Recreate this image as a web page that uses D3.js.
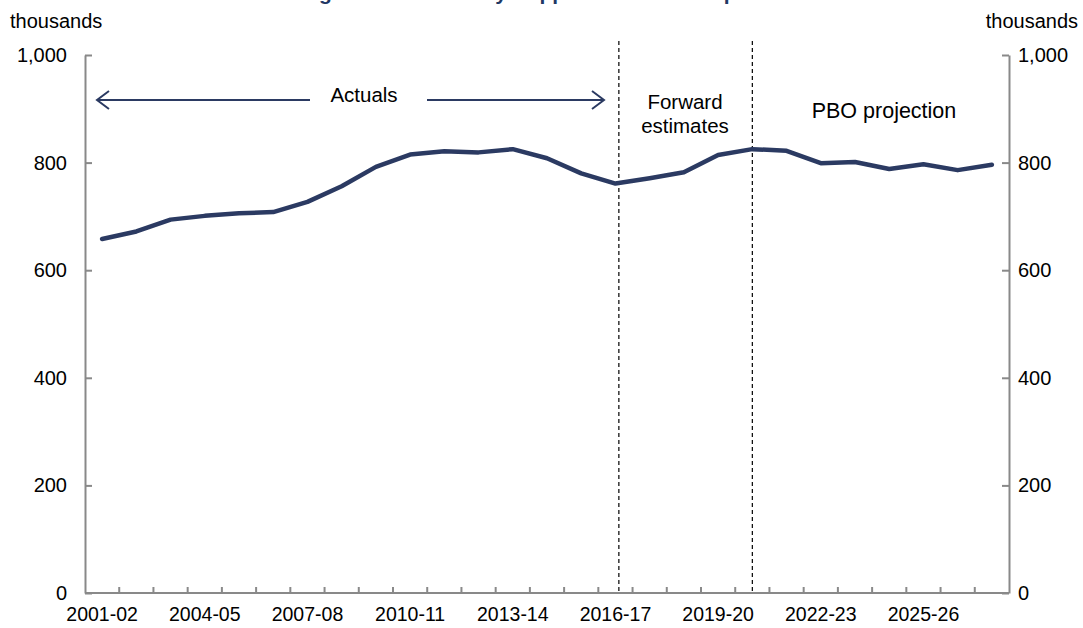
<!DOCTYPE html>
<html>
<head>
<meta charset="utf-8">
<script src="https://cdn.jsdelivr.net/npm/d3@7"></script>
<style>
  html, body { margin: 0; padding: 0; background: #ffffff; }
  svg { display: block; font-family: "Liberation Sans", Arial, sans-serif; }
</style>
</head>
<body>
<svg id="chart" width="1083" height="628"></svg>
<script>
// ---- data ----
const categories = ["2001-02","2002-03","2003-04","2004-05","2005-06","2006-07","2007-08","2008-09","2009-10","2010-11",
  "2011-12","2012-13","2013-14","2014-15","2015-16","2016-17","2017-18","2018-19","2019-20","2020-21",
  "2021-22","2022-23","2023-24","2024-25","2025-26","2026-27","2027-28"];
const recipients = [658, 672, 694, 701, 706, 708, 727, 756, 792, 815,
  821, 819, 825, 808, 780, 761, 771, 782, 814, 825,
  822, 799, 801, 788, 797, 786, 796];
const xTickLabels = ["2001-02","2004-05","2007-08","2010-11","2013-14","2016-17","2019-20","2022-23","2025-26"];
const yTicks = [0, 200, 400, 600, 800, 1000];
const dividers = [{cat: "2016-17", frac: 0.6}, {cat: "2020-21", frac: 0.5}];
const titleText = "Figure 3-1: Disability Support Pension recipients";

(function () {
// ---- layout ----
const svg = d3.select("#chart");
const pLeft = 85, pRight = 1009, pTop = 55, pBottom = 593;
const axisColor = "#898989";
const navy = "#2b3a62";

const x = d3.scaleBand().domain(categories).range([pLeft, pRight]).padding(0);
const bw = x.bandwidth();
const cx = c => x(c) + bw / 2;
const y = d3.scaleLinear().domain([0, 1000]).range([pBottom, pTop]);

// title (cut off at top, as in the reference)
svg.append("text").attr("x", 543).attr("y", 0).attr("text-anchor", "middle")
  .attr("font-size", 21).attr("font-weight", "bold").attr("fill", "#1f3864").text(titleText);

// unit labels
svg.append("text").attr("x", 10).attr("y", 28).attr("font-size", 20).attr("fill", "#000").text("thousands");
svg.append("text").attr("x", 1078).attr("y", 28).attr("text-anchor", "end").attr("font-size", 20).attr("fill", "#000").text("thousands");

// left axis
const gL = svg.append("g").attr("transform", `translate(${pLeft},0)`)
  .call(d3.axisLeft(y).tickValues(yTicks).tickFormat(d3.format(",")).tickSizeInner(-7).tickSizeOuter(0).tickPadding(18));
// right axis
const gR = svg.append("g").attr("transform", `translate(${pRight},0)`)
  .call(d3.axisRight(y).tickValues(yTicks).tickFormat(d3.format(",")).tickSizeInner(-7).tickSizeOuter(0).tickPadding(9));
// bottom axis labels
const gB = svg.append("g").attr("transform", `translate(0,${pBottom})`)
  .call(d3.axisBottom(x).tickValues(xTickLabels).tickSize(0).tickPadding(14));
gB.select(".domain").remove();

[gL, gR].forEach(g => {
  g.select(".domain").attr("stroke", axisColor).attr("stroke-width", 2);
  g.selectAll(".tick line").attr("stroke", axisColor).attr("stroke-width", 2);
  g.selectAll(".tick text").attr("font-size", 20);
});
gB.selectAll(".tick text").attr("font-size", 19.5);
[gL, gR, gB].forEach(g => {
  g.selectAll(".tick text").attr("fill", "#000")
    .attr("font-family", "'Liberation Sans', Arial, sans-serif");
});

// bottom axis line & category boundary ticks
svg.append("line").attr("x1", pLeft).attr("x2", pRight).attr("y1", pBottom).attr("y2", pBottom)
  .attr("stroke", axisColor).attr("stroke-width", 2);
svg.append("g").selectAll("line").data(categories.slice(1)).join("line")
  .attr("x1", d => x(d)).attr("x2", d => x(d))
  .attr("y1", pBottom).attr("y2", pBottom - 6)
  .attr("stroke", axisColor).attr("stroke-width", 2);

// dividers
svg.append("g").selectAll("line").data(dividers).join("line")
  .attr("x1", d => x(d.cat) + bw * d.frac).attr("x2", d => x(d.cat) + bw * d.frac)
  .attr("y1", 41).attr("y2", pBottom)
  .attr("stroke", "#000").attr("stroke-width", 1.2).attr("stroke-dasharray", "4,3");

// data line
const line = d3.line().x((d, i) => cx(categories[i])).y(d => y(d));
svg.append("path").datum(recipients).attr("d", line)
  .attr("fill", "none").attr("stroke", navy).attr("stroke-width", 4.5)
  .attr("stroke-linejoin", "round").attr("stroke-linecap", "round");

// annotations
const arrowY = 100;
const aL = 97, aR = 604;
const ann = svg.append("g").attr("stroke", navy).attr("stroke-width", 2).attr("fill", "none");
ann.append("line").attr("x1", aL).attr("x2", 310).attr("y1", arrowY).attr("y2", arrowY);
ann.append("line").attr("x1", 427).attr("x2", aR).attr("y1", arrowY).attr("y2", arrowY);
ann.append("path").attr("d", `M${aL + 12},${arrowY - 9} L${aL},${arrowY} L${aL + 12},${arrowY + 9}`);
ann.append("path").attr("d", `M${aR - 12},${arrowY - 9} L${aR},${arrowY} L${aR - 12},${arrowY + 9}`);

const txt = (t, xx, yy, fs) => svg.append("text").attr("x", xx).attr("y", yy).attr("text-anchor", "middle")
  .attr("font-size", fs).attr("fill", "#000").text(t);
txt("Actuals", 364, 102, 20.5);
txt("Forward", 685, 109, 20.5);
txt("estimates", 685, 133, 20.5);
txt("PBO projection", 884, 118, 21.5);
})();
</script>
</body>
</html>
